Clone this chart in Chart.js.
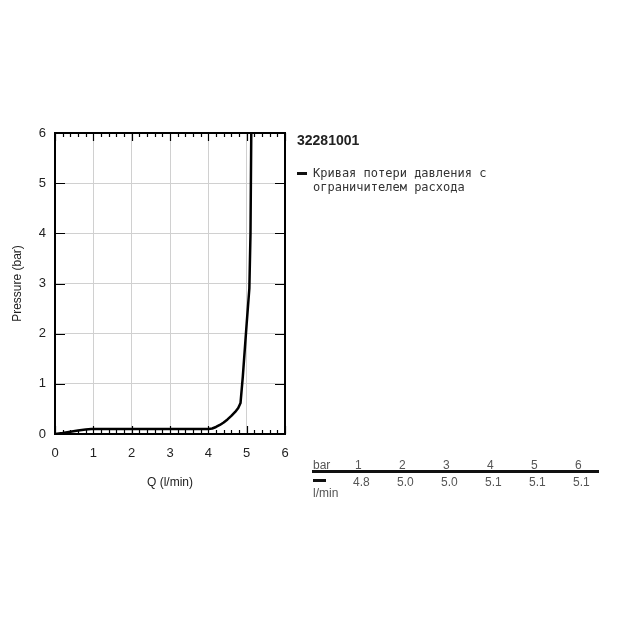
<!DOCTYPE html>
<html>
<head>
<meta charset="utf-8">
<script src="https://cdn.jsdelivr.net/npm/chart.js@4.4.1/dist/chart.umd.min.js"></script>
<style>
  body { margin: 0; background: #fff; }
  #wrap { position: relative; width: 625px; height: 625px; }
  #myChart { position: absolute; left: 0; top: 0; }
  .txt { position: absolute; font-family: "Liberation Sans", Arial, sans-serif; color: #222; white-space: nowrap; }
  .mono { font-family: "DejaVu Sans Mono", monospace; font-size: 12px; color: #333; line-height: 14px; }
  .tbl { font-size: 12px; color: #555; }
</style>
</head>
<body>
<div id="wrap">
  <canvas id="myChart" width="625" height="625"></canvas>
  <div class="txt" style="left:297px; top:132px; font-size:14px; font-weight:bold;">32281001</div>
  <div style="position:absolute; left:297px; top:172px; width:10px; height:3px; background:#111;"></div>
  <div class="txt mono" style="left:313px; top:166px;">Кривая потери давления с<br>ограничителем расхода</div>
  <div id="table"></div>
</div>
<script>
  // curve: pressure loss with flow limiter
  const flowQ    = [0, 0.2, 0.4, 0.6, 0.8, 0.95, 4.0, 4.1, 4.2, 4.3, 4.4, 4.5, 4.6, 4.7, 4.78, 4.84, 4.9, 5.0, 5.07, 5.1, 5.12];
  const pressure = [0, 0.02, 0.045, 0.07, 0.09, 0.1, 0.1, 0.11, 0.14, 0.18, 0.23, 0.29, 0.36, 0.44, 0.52, 0.62, 1.15, 2.2, 2.9, 4.0, 6.0];

  // table under legend
  const tableBar  = ['1', '2', '3', '4', '5', '6'];
  const tableFlow = ['4.8', '5.0', '5.0', '5.1', '5.1', '5.1'];

  function buildTable() {
    const t = document.getElementById('table');
    let html = '<div class="txt tbl" style="left:313px; top:458px;">bar</div>';
    tableBar.forEach((b, i) => {
      html += `<div class="txt tbl" style="left:${355 + i * 44}px; top:458px;">${b}</div>`;
    });
    html += '<div style="position:absolute; left:312px; top:470px; width:287px; height:3px; background:#111;"></div>';
    html += '<div style="position:absolute; left:313px; top:479px; width:13px; height:3px; background:#111;"></div>';
    tableFlow.forEach((v, i) => {
      html += `<div class="txt tbl" style="left:${353 + i * 44}px; top:475px;">${v}</div>`;
    });
    html += '<div class="txt tbl" style="left:313px; top:486px;">l/min</div>';
    t.innerHTML = html;
  }

  // inward tick marks on the frame
  const frameTicks = {
    id: 'frameTicks',
    afterDraw(chart) {
      const ctx = chart.ctx;
      const a = chart.chartArea;
      const xs = chart.scales.x, ys = chart.scales.y;
      ctx.save();
      ctx.strokeStyle = '#000';
      ctx.lineWidth = 1.2;
      ctx.beginPath();
      for (let i = 0; i <= 30; i++) {
        const px = Math.round(xs.getPixelForValue(i / 5)) + 0.5;
        const len = i % 5 === 0 ? 8 : 4;
        ctx.moveTo(px, a.top); ctx.lineTo(px, a.top + len);
        ctx.moveTo(px, a.bottom); ctx.lineTo(px, a.bottom - len);
      }
      for (let j = 0; j <= 6; j++) {
        const py = Math.round(ys.getPixelForValue(j)) + 0.5;
        ctx.moveTo(a.left, py); ctx.lineTo(a.left + 10, py);
        ctx.moveTo(a.right, py); ctx.lineTo(a.right - 10, py);
      }
      ctx.stroke();
      ctx.lineWidth = 2;
      ctx.strokeRect(a.left, a.top, a.right - a.left, a.bottom - a.top);
      ctx.restore();
    }
  };

  function createChart() {
    const ctx = document.getElementById('myChart').getContext('2d');
    const pts = flowQ.map((q, i) => ({ x: q, y: pressure[i] }));
    new Chart(ctx, {
      type: 'scatter',
      data: {
        datasets: [{
          data: pts,
          showLine: true,
          borderColor: '#000',
          borderWidth: 2.5,
          pointRadius: 0,
          tension: 0,
          borderJoinStyle: 'round',
          fill: false
        }]
      },
      options: {
        responsive: false,
        animation: false,
        layout: { padding: { left: 0, right: 340, top: 133, bottom: 131 } },
        plugins: { legend: { display: false }, tooltip: { enabled: false } },
        scales: {
          x: {
            type: 'linear', min: 0, max: 6,
            afterFit(s) { s.height = 60; },
            grid: { color: '#d0d0d0', lineWidth: 1, drawTicks: false },
            border: { display: false },
            ticks: { stepSize: 1, padding: 12, color: '#222', font: { family: 'Liberation Sans', size: 13 } },
            title: { display: true, text: 'Q (l/min)', color: '#222', padding: { top: 0, bottom: 4 }, font: { family: 'Liberation Sans', size: 12 } }
          },
          y: {
            type: 'linear', min: 0, max: 6,
            afterFit(s) { s.width = 55; },
            grid: { color: '#d0d0d0', lineWidth: 1, drawTicks: false },
            border: { display: false },
            ticks: { stepSize: 1, padding: 9, color: '#222', font: { family: 'Liberation Sans', size: 13 } },
            title: { display: true, text: 'Pressure (bar)', color: '#222', padding: { top: 10, bottom: 0 }, font: { family: 'Liberation Sans', size: 12 } }
          }
        }
      },
      plugins: [frameTicks]
    });
  }

  window.onload = function () {
    buildTable();
    createChart();
  };
</script>
</body>
</html>
